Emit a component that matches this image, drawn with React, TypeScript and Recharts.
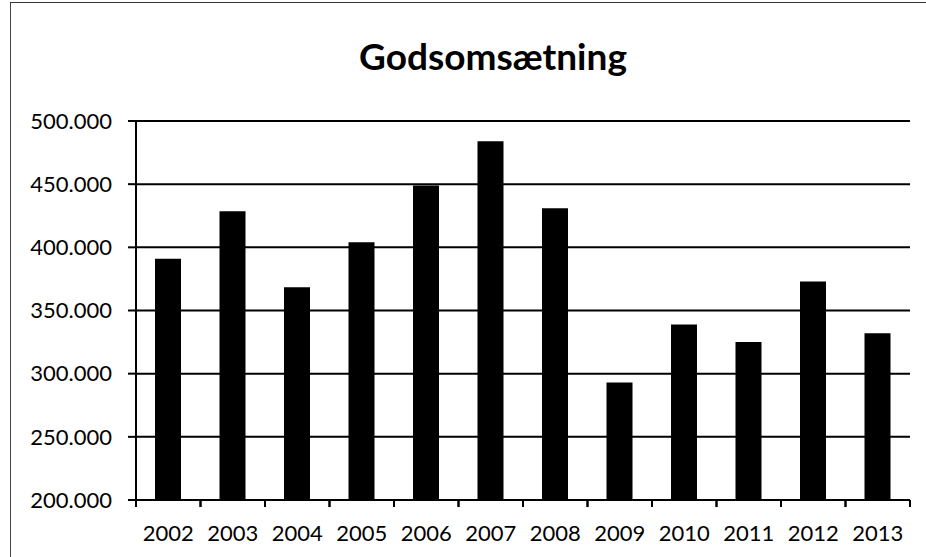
import { BarChart, Bar, XAxis, YAxis, CartesianGrid } from "recharts";

const years = ["2002", "2003", "2004", "2005", "2006", "2007", "2008", "2009", "2010", "2011", "2012", "2013"];
const godsomsaetning = [391000, 428500, 368500, 404000, 449000, 484000, 431000, 293000, 339000, 325000, 373000, 332000];
const yTicks = [200000, 250000, 300000, 350000, 400000, 450000, 500000];

const data = years.map((year, i) => ({ year, value: godsomsaetning[i] }));

const font = "Lato, 'Open Sans', sans-serif";

// 500000 -> "500.000"
const fmt = (v: number) => String(v).replace(/\B(?=(\d{3})+(?!\d))/g, ".");

// Excel-style category ticks: marks sit on the band edges, label in the middle
function YearTick(props: any) {
  const { x, y, payload } = props;
  const half = payload.offset || 0;
  return (
    <g>
      <line x1={x - half} x2={x - half} y1={y - 25} y2={y - 18} stroke="#000" strokeWidth={2} />
      <line x1={x + half} x2={x + half} y1={y - 25} y2={y - 18} stroke="#000" strokeWidth={2} />
      <text x={x} y={y} dy="0.71em" textAnchor="middle" fill="#000" fontSize={22} fontFamily={font}>
        {payload.value}
      </text>
    </g>
  );
}

export default function App() {
  return (
    <div style={{ position: "absolute", left: 0, top: 0, width: 926, height: 557, background: "#fff" }}>
      <div
        style={{
          position: "absolute",
          left: 10,
          top: 2,
          width: 916,
          height: 555,
          borderLeft: "1px solid #444",
          borderTop: "1px solid #333",
          boxSizing: "border-box",
        }}
      />
      <div
        style={{
          position: "absolute",
          left: 0,
          top: 36,
          width: 986,
          textAlign: "center",
          fontFamily: font,
          fontWeight: 700,
          fontSize: 37,
          lineHeight: "40px",
          color: "#000",
        }}
      >
        Godsomsætning
      </div>
      <div style={{ position: "absolute", left: 0, top: 0 }}>
        <BarChart width={926} height={557} data={data} margin={{ top: 121, right: 16, left: 0, bottom: 0 }}>
          <CartesianGrid vertical={false} stroke="#000" strokeWidth={2} strokeOpacity={1} />
          <XAxis
            dataKey="year"
            height={57}
            axisLine={{ stroke: "#000", strokeWidth: 2 }}
            tickLine={false}
            tickSize={7}
            tickMargin={18}
            interval={0}
            tick={<YearTick />}
          />
          <YAxis
            width={136}
            domain={[200000, 500000]}
            ticks={yTicks}
            tickFormatter={fmt}
            axisLine={{ stroke: "#000", strokeWidth: 2 }}
            tickLine={{ stroke: "#000", strokeWidth: 2 }}
            tickSize={8}
            tickMargin={16}
            tick={{ fill: "#000", fontSize: 22, fontFamily: font }}
          />
          <Bar dataKey="value" fill="#000" barSize={26} isAnimationActive={false} />
        </BarChart>
      </div>
    </div>
  );
}
